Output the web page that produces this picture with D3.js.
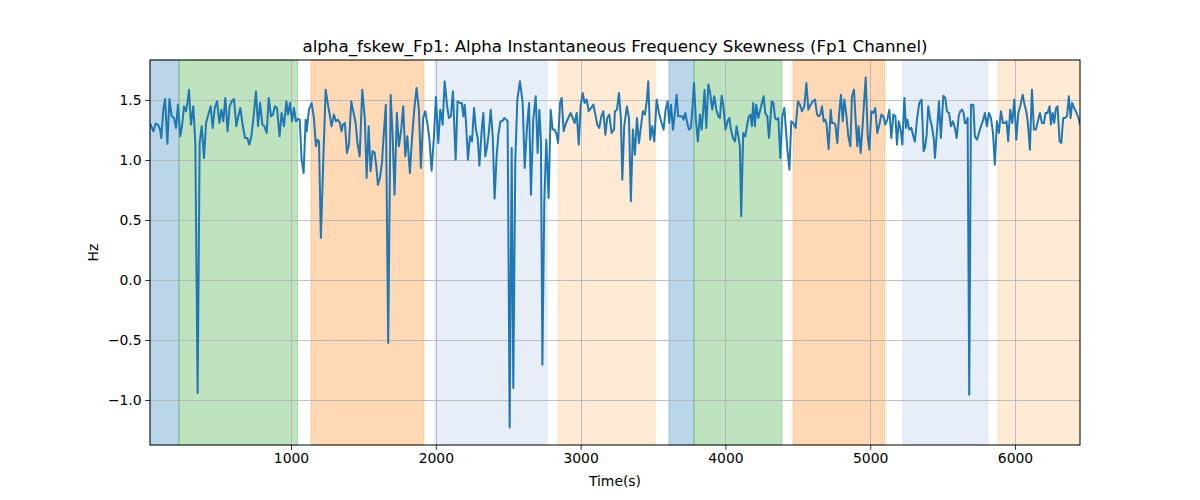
<!DOCTYPE html>
<html>
<head>
<meta charset="utf-8">
<script src="https://cdn.jsdelivr.net/npm/d3@7"></script>
<style>
  html, body { margin: 0; padding: 0; background: #fff; }
  svg { display: block; font-family: "DejaVu Sans", sans-serif; }
</style>
</head>
<body>
<svg id="chart" width="1200" height="500"></svg>
<script>
const title = "alpha_fskew_Fp1: Alpha Instantaneous Frequency Skewness (Fp1 Channel)";
const xLabel = "Time(s)";
const yLabel = "Hz";
const xTicks = [1000, 2000, 3000, 4000, 5000, 6000];
const yTicks = [-1.0, -0.5, 0.0, 0.5, 1.0, 1.5];
const xDomain = [26, 6449];
const yDomain = [-1.375, 1.833];

// shaded stage spans: start, end, colour
const spanStarts = [26, 226, 1138, 1994, 2844, 3610, 3783, 4467, 5226, 5882];
const spanEnds   = [226, 1046, 1918, 2768, 3514, 3783, 4391, 5102, 5813, 6449];
const spanColors = ["#1f77b4", "#2ca02c", "#ff7f0e", "#aec7e8", "#ffbb78",
                    "#1f77b4", "#2ca02c", "#ff7f0e", "#aec7e8", "#ffbb78"];

const times = [
26,49,65,81,95,104,118,130,146,160,176,192,206,219,235,247,261,275,286,295,309,325,339,355,369,383,399,413,429,445,459,473,489,505,519,532,546,562,576,590,606,622,636,650,664,682,698,712,726,744,758,772,786,802,816,832,846,862,875,889,903,921,935,951,968,979,993,1007,1020,1034,1048,1060,1073,1087,
1101,1108,1124,1142,1158,1172,1183,1193,1206,1223,1239,1253,1269,1280,1296,1310,1324,1338,1349,1358,1372,1386,1400,1416,1432,1446,1460,1474,1492,1510,1522,1536,1549,1563,1577,1589,1600,1614,1628,1644,1655,1671,1688,1701,1715,1731,1745,1761,1775,1789,1803,1821,1835,1851,1867,1883,1897,1913,1927,1943,1955,1971,1987,2001,2017,2031,2038,2047,2061,2077,2090,2104,2118,2137,2150,
2167,2179,2190,2199,2208,2222,2236,2250,2264,2277,2289,2301,2317,2328,2342,2356,2367,2379,2393,2406,2420,2432,2446,2459,2473,2487,2496,2510,2524,2535,2549,2563,2581,2600,2614,2630,2644,2657,2673,2690,2703,2715,2726,2736,2749,2763,2779,2793,2807,2818,2832,2844,2858,2869,2883,2899,2915,2931,2945,2959,2973,2987,3000,3014,3028,3042,3056,3072,3088,3102,3115,3129,3143,3157,3171,3184,3198,3214,3231,
3237,3251,3265,3278,3288,3301,3320,3334,3347,3361,3375,3389,3403,3417,3430,3444,3458,3467,3481,3495,3509,3525,3541,3559,3573,3587,3601,3612,3624,3638,3651,3663,3674,3688,3702,3711,3723,3734,3748,3762,3773,3783,3796,3810,3824,3836,3847,3856,3868,3882,3895,3909,3923,3937,3951,3962,3974,3985,4001,4015,4027,4038,4052,4066,4077,4091,4100,4109,4123,4137,4149,4162,4174,4183,4192,4204,4213,4227,4241,4252,4264,4275,4289,4301,
4320,4331,4343,4354,4366,4379,4393,4407,4418,4428,4442,4455,4469,4485,4501,4515,4529,4545,4559,4573,4589,4603,4619,4633,4644,4656,4667,4679,4690,4699,4713,4727,4736,4750,4759,4773,4785,4798,4810,4821,4835,4849,4863,4874,4888,4900,4911,4920,4934,4948,4959,4969,4983,4994,5008,5022,5035,5049,5063,5077,5091,5104,5118,5132,5146,5160,5174,5185,5197,5210,5222,5236,5247,5256,5270,5284,5298,5309,5323,5339,5355,5369,
5378,5390,5401,5413,5426,5440,5447,5463,5475,5488,5505,5518,5530,5544,5558,5571,5585,5597,5611,5622,5634,5645,5654,5663,5673,5684,5696,5712,5723,5737,5751,5765,5781,5792,5806,5820,5834,5848,5861,5875,5889,5903,5917,5930,5942,5953,5967,5981,5995,6009,6023,6039,6053,6066,6078,6089,6103,6117,6131,6145,6158,6172,6186,6200,6211,6225,6239,6248,6260,6271,6283,6294,6308,6320,6333,6345,6359,6372,6384,6395,6409,6425,6439,6449
];

const skewHz = [
1.308,1.239,1.303,1.294,1.258,1.183,1.419,1.508,1.136,1.508,1.364,1.350,1.267,1.461,1.197,1.281,1.447,1.406,1.489,1.586,1.294,1.447,1.142,-0.942,1.142,1.281,1.017,1.308,1.378,1.447,1.267,1.433,1.489,1.308,1.419,1.322,1.517,1.239,1.447,1.489,1.508,1.281,1.364,1.433,1.308,1.183,1.183,1.128,1.197,1.392,1.572,1.281,1.475,1.294,1.281,1.225,1.517,1.364,1.378,1.447,1.433,1.197,1.392,1.281,1.489,1.378,1.475,1.322,1.433,1.322,1.342,1.336,1.003,0.892,
1.336,1.239,1.419,1.475,1.350,1.114,1.169,1.155,0.350,1.003,1.586,1.475,1.364,1.281,1.378,1.322,1.336,1.308,1.239,1.294,1.308,1.058,1.128,1.489,1.392,1.308,1.128,1.031,1.586,1.336,0.850,1.281,0.906,1.072,1.064,0.947,0.794,0.850,0.975,1.281,1.461,-0.525,1.544,1.225,0.711,1.392,1.114,1.253,1.447,1.031,1.197,0.892,1.169,1.419,1.600,1.419,0.933,1.350,1.406,1.294,1.183,0.911,1.197,1.525,1.142,1.419,1.378,1.294,1.655,1.461,1.350,1.364,1.572,1.003,1.489,
1.475,1.475,1.364,1.461,1.322,1.003,1.197,1.155,1.433,1.253,1.183,0.953,1.253,1.392,1.031,1.128,1.239,1.419,1.197,0.678,1.031,1.211,1.322,1.322,1.350,1.336,1.322,-1.229,1.100,-0.900,1.003,1.503,1.655,1.475,0.933,1.281,1.475,0.711,1.336,1.531,1.058,1.419,1.155,-0.706,0.642,1.169,0.683,1.419,1.253,1.253,1.225,1.142,1.475,1.517,1.239,1.308,1.350,1.392,1.350,1.308,1.392,1.128,1.447,1.558,1.475,1.503,1.406,1.433,1.461,1.378,1.294,1.267,1.364,1.406,1.211,1.350,1.378,1.225,1.253,
1.406,1.419,1.558,1.350,0.836,1.281,1.447,1.350,0.656,1.253,1.044,1.350,1.142,1.281,1.406,1.378,1.503,1.655,1.169,1.281,1.155,1.503,1.392,1.308,1.253,1.419,1.489,1.308,1.461,1.253,1.392,1.544,1.364,1.364,1.364,1.336,1.392,1.322,1.253,1.267,1.447,1.642,1.336,1.155,1.378,1.253,1.419,1.586,1.267,1.628,1.558,1.419,1.531,1.419,1.364,1.350,1.536,1.461,1.253,1.322,1.350,1.253,1.183,1.155,1.281,1.183,1.114,0.531,1.225,1.197,1.281,1.364,1.378,1.281,1.475,1.281,1.461,1.350,1.419,1.475,1.531,1.392,1.364,1.183,
1.489,1.475,1.350,1.336,1.350,1.017,1.364,1.433,1.253,1.086,0.919,1.322,1.308,1.267,1.489,1.461,1.406,1.447,1.642,1.419,1.461,1.489,1.503,1.378,1.364,1.378,1.447,1.322,1.336,1.294,1.092,1.419,1.308,1.308,1.294,1.142,1.378,1.544,1.322,1.503,1.378,1.197,1.114,1.531,1.586,1.322,1.114,1.281,1.058,1.294,1.503,1.687,1.197,1.086,1.406,1.392,1.433,1.225,1.294,1.378,1.364,1.294,1.336,1.419,1.183,1.378,1.364,1.128,1.322,1.253,1.128,1.517,1.267,1.336,1.253,1.267,1.197,1.155,1.336,1.475,1.503,1.072,
1.100,1.211,1.447,1.350,1.281,1.169,1.017,1.267,1.489,1.183,1.536,1.517,1.406,1.392,1.281,1.322,1.267,1.183,1.364,1.406,1.419,1.392,1.308,1.308,1.350,-0.956,1.461,1.461,1.197,1.169,1.225,1.281,1.336,1.392,1.281,1.392,1.350,1.225,0.961,1.322,1.225,1.406,1.308,1.308,1.322,1.155,1.419,1.308,1.503,1.169,1.392,1.461,1.544,1.461,1.406,1.308,1.086,1.586,1.253,1.253,1.322,1.392,1.308,1.308,1.392,1.392,1.447,1.294,1.392,1.308,1.433,1.447,1.155,1.142,1.350,1.350,1.364,1.531,1.350,1.475,1.433,1.392,1.350,1.294
];

const W = 1200, H = 500;
const m = { left: 150, right: 1080, top: 60, bottom: 445 };
const svg = d3.select("#chart");

const x = d3.scaleLinear().domain(xDomain).range([m.left, m.right]);
const y = d3.scaleLinear().domain(yDomain).range([m.bottom, m.top]);

// spans
const spans = spanStarts.map((s, i) => ({ s, e: spanEnds[i], c: spanColors[i] }));
svg.append("g").selectAll("rect").data(spans).join("rect")
  .attr("x", d => x(d.s)).attr("width", d => x(d.e) - x(d.s))
  .attr("y", m.top).attr("height", m.bottom - m.top)
  .attr("fill", d => d.c).attr("fill-opacity", 0.3)
  .attr("stroke", d => d.c).attr("stroke-opacity", 0.3).attr("stroke-width", 1);

// grid
const grid = svg.append("g").attr("stroke", "#b0b0b0").attr("stroke-width", 0.8);
grid.selectAll(".gx").data(xTicks).join("line")
  .attr("x1", d => Math.round(x(d)) + 0.5).attr("x2", d => Math.round(x(d)) + 0.5)
  .attr("y1", m.top).attr("y2", m.bottom);
grid.selectAll(".gy").data(yTicks).join("line")
  .attr("y1", d => Math.round(y(d)) + 0.5).attr("y2", d => Math.round(y(d)) + 0.5)
  .attr("x1", m.left).attr("x2", m.right);

// line
const defs = svg.append("defs");
defs.append("clipPath").attr("id", "clip").append("rect")
  .attr("x", m.left).attr("y", m.top).attr("width", m.right - m.left).attr("height", m.bottom - m.top);
const pts = times.map((t, i) => [t, skewHz[i]]);
svg.append("path").datum(pts)
  .attr("clip-path", "url(#clip)")
  .attr("fill", "none").attr("stroke", "#1f77b4").attr("stroke-width", 2)
  .attr("stroke-linejoin", "round").attr("stroke-linecap", "butt")
  .attr("d", d3.line().x(d => x(d[0])).y(d => y(d[1])));

// axes
const fmtY = d => d3.format(".1f")(d).replace("-", "\u2212");
const xAxis = svg.append("g").attr("transform", `translate(0,${m.bottom})`)
  .call(d3.axisBottom(x).tickValues(xTicks).tickFormat(d3.format("d")).tickSize(4.9).tickPadding(3.5));
const yAxis = svg.append("g").attr("transform", `translate(${m.left},0)`)
  .call(d3.axisLeft(y).tickValues(yTicks).tickFormat(fmtY).tickSize(4.9).tickPadding(3.5));
[xAxis, yAxis].forEach(g => {
  g.select(".domain").remove();
  g.selectAll("line").attr("stroke", "#000").attr("stroke-width", 0.8);
  g.selectAll("text").attr("font-size", "13.9px").attr("fill", "#000")
    .attr("font-family", "DejaVu Sans, sans-serif");
});

// frame
svg.append("rect").attr("x", m.left).attr("y", m.top)
  .attr("width", m.right - m.left).attr("height", m.bottom - m.top)
  .attr("fill", "none").attr("stroke", "#000").attr("stroke-width", 1);

// labels
svg.append("text").attr("x", (m.left + m.right) / 2).attr("y", 52)
  .attr("text-anchor", "middle").attr("font-size", "16.7px").attr("fill", "#000").text(title);
svg.append("text").attr("x", (m.left + m.right) / 2).attr("y", 486)
  .attr("text-anchor", "middle").attr("font-size", "13.9px").attr("fill", "#000").text(xLabel);
svg.append("text").attr("transform", `translate(98,${(m.top + m.bottom) / 2}) rotate(-90)`)
  .attr("text-anchor", "middle").attr("font-size", "13.9px").attr("fill", "#000").text(yLabel);
</script>
</body>
</html>
